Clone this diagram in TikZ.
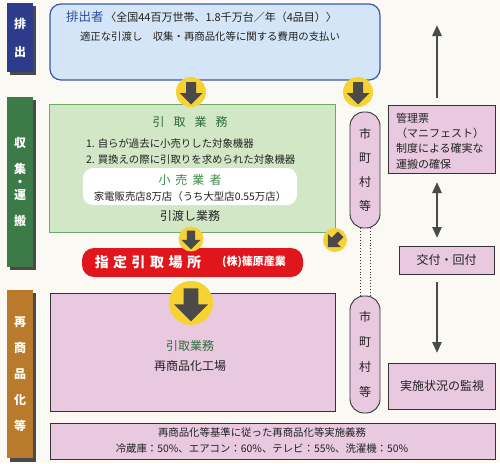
\documentclass[tikz,border=0pt]{standalone}
\usepackage{fontspec}
\setmainfont{Noto Sans CJK JP}
\usetikzlibrary{arrows.meta,fit}
\definecolor{bgc}{HTML}{FBF9F4}
\definecolor{bandblue}{HTML}{2C3B8C}
\definecolor{bandgreen}{HTML}{3C7A48}
\definecolor{bandorange}{HTML}{B97A2B}
\definecolor{shadowc}{HTML}{4A4A4A}
\definecolor{bluef}{HTML}{D3E5F6}
\definecolor{blueline}{HTML}{3A58A8}
\definecolor{titleblue}{HTML}{2E4CA6}
\definecolor{greenf}{HTML}{D2E7C6}
\definecolor{greenline}{HTML}{6AAA6A}
\definecolor{darkgreen}{HTML}{2E6B3A}
\definecolor{midgreen}{HTML}{3A8A4A}
\definecolor{pinkf}{HTML}{E8C9E0}
\definecolor{boxline}{HTML}{333333}
\definecolor{redf}{HTML}{E0161C}
\definecolor{yel}{HTML}{F6D332}
\definecolor{arrowc}{HTML}{4A4A4A}
\definecolor{textc}{HTML}{222222}
\begin{document}
\begin{tikzpicture}[x=1pt,y=-1pt,
  every node/.style={inner sep=0pt, outer sep=0pt, text=textc},
  pinkbox/.style={draw=boxline, fill=pinkf, line width=0.9pt},
  bandtext/.style={text=white, align=center, font=\bfseries\fontsize{12}{#1}\selectfont},
  conn/.style={draw=arrowc, line width=2.6pt, -{Triangle[width=9pt,length=11pt]}},
  dconn/.style={draw=arrowc, line width=2.6pt, {Triangle[width=9pt,length=11pt]}-{Triangle[width=9pt,length=11pt]}},
  yarrow/.pic={
    \fill[yel] (0,0) circle[radius=15pt];
    \fill[arrowc] (-5,-10) -- (5,-10) -- (5,1) -- (11.5,1) -- (0,12.5) -- (-11.5,1) -- (-5,1) -- cycle;
  }]
\fill[bgc] (0,0) rectangle (500,463);
\useasboundingbox (0,0) rectangle (500,463);

% ---- left bands
\fill[shadowc] (10,6) rectangle (36,75);
\node[fit={(7,3)(33,72)}, fill=bandblue] (b1) {};
\node[bandtext=28] (b1t) at (b1.center) {排\\出};
\fill[shadowc] (10,100) rectangle (36,270);
\node[fit={(7,97)(33,267)}, fill=bandgreen] (b2) {};
\node[bandtext=26] (b2t) at (b2.center) {収\\集\\[-13pt]・\\[-13pt]運\\搬};
\fill[shadowc] (10,293) rectangle (36,462);
\node[fit={(7,290)(33,458)}, fill=bandorange] (b3) {};
\node[bandtext=26] (b3t) at (b3.center) {再\\商\\品\\化\\等};

% ---- top box
\node[fit={(50,4)(380,80)}, draw=blueline, fill=bluef, line width=1.2pt, rounded corners=11pt] (hs) {};
\node[anchor=west, font=\fontsize{11}{11}\selectfont] (hst) at (66,17)
  {\textcolor{titleblue}{\fontsize{12.5}{12}\selectfont 排出者}\,〈全国44百万世帯、1.8千万台／年（4品目）〉};
\node[anchor=west, font=\fontsize{10.4}{11}\selectfont] (hsl) at (80,37)
  {適正な引渡し　収集・再商品化等に関する費用の支払い};

% ---- collection box
\node[fit={(49,104)(335,232)}, draw=greenline, fill=greenf, line width=1pt] (gb) {};
\node[text=darkgreen, font=\fontsize{12}{12}\selectfont] (gbt) at (190,122) {引\hspace{9pt}取\hspace{9pt}業\hspace{9pt}務};
\node[anchor=west, align=left, font=\fontsize{10.4}{16}\selectfont] (gbl) at (86,152)
  {1. 自らが過去に小売りした対象機器\\2. 買換えの際に引取りを求められた対象機器};
\node[fit={(83,168)(297,205)}, fill=white, rounded corners=10pt] (wb) {};
\node[text=midgreen, font=\fontsize{12}{12}\selectfont] (wbt) at (190,180) {小\hspace{5pt}売\hspace{5pt}業\hspace{5pt}者};
\node[font=\fontsize{10.4}{11}\selectfont] (wbl) at (190,197) {家電販売店8万店（うち大型店0.55万店）};
\node[font=\fontsize{12}{12}\selectfont] (gbw) at (190,216) {引渡し業務};

% ---- red box
\node[fit={(82,248)(303,277)}, fill=redf, rounded corners=12pt] (rb) {};
\node[text=white, font=\bfseries\fontsize{14}{14}\selectfont] (rbt) at (148,262)
  {指\hspace{4.5pt}定\hspace{4.5pt}引\hspace{4.5pt}取\hspace{4.5pt}場\hspace{4.5pt}所};
\node[text=white, font=\bfseries\fontsize{11}{11}\selectfont] (rbc) at (254,262) {(株)篠原産業};

% ---- recycling box
\node[fit={(50,293)(335,411)}, pinkbox] (pb) {};
\node[text=darkgreen, font=\fontsize{12}{12}\selectfont] (pbt) at (190,346) {引取業務};
\node[font=\fontsize{12}{12}\selectfont] (pbl) at (190,366) {再商品化工場};

% ---- bottom box
\node[fit={(50,423)(495,459)}, pinkbox] (bb) {};
\node[align=center, font=\fontsize{10.4}{16}\selectfont] (bbt) at (262,441)
  {再商品化等基準に従った再商品化等実施義務\\冷蔵庫：50\%、エアコン：60\%、テレビ：55\%、洗濯機：50\%};

% ---- municipalities
\node[fit={(350,112)(380,228)}, pinkbox, rounded corners=14pt] (m1) {};
\node[align=center, font=\fontsize{12}{24}\selectfont] (m1t) at (m1.center) {市\\町\\村\\等};
\node[fit={(350,296)(380,413)}, pinkbox, rounded corners=14pt] (m2) {};
\node[align=center, font=\fontsize{12}{25}\selectfont] (m2t) at (m2.center) {市\\町\\村\\等};
\draw[boxline, dotted, line width=0.9pt] ([xshift=-5pt]m1.south) -- ([xshift=-5pt]m2.north);
\draw[boxline, dotted, line width=0.9pt] ([xshift=5pt]m1.south) -- ([xshift=5pt]m2.north);

% ---- right column
\node[fit={(388,105)(495,173)}, pinkbox] (kr) {};
\node[anchor=west, align=left, font=\fontsize{11}{15.3}\selectfont] (krt) at (396,141)
  {管理票\\（マニフェスト）\\制度による確実な\\運搬の確保};
\node[fit={(399,246)(494,274)}, pinkbox] (kf) {};
\node[font=\fontsize{12}{12}\selectfont] (kft) at (kf.center) {交付・回付};
\node[fit={(388,363)(495,409)}, pinkbox] (js) {};
\node[font=\fontsize{12}{12}\selectfont] (jst) at (442,386) {実施状況の監視};

\coordinate (uptip) at (437,25);
\draw[conn, shorten <=7pt] (uptip |- kr.north) -- (uptip);
\draw[dconn, shorten <=9pt, shorten >=8pt] (uptip |- kr.south) -- (uptip |- kf.north);
\draw[conn, shorten <=8pt, shorten >=10pt] (uptip |- kf.south) -- (uptip |- js.north);

% ---- yellow flow arrows
\pic at (191,92) {yarrow};
\pic at (358,92) {yarrow};
\pic[scale=0.83] at (191,239) {yarrow};
\pic[scale=0.8, rotate=-45] at (335,240) {yarrow};
\pic[scale=1.47] at (191,303) {yarrow};
\end{tikzpicture}
\end{document}
